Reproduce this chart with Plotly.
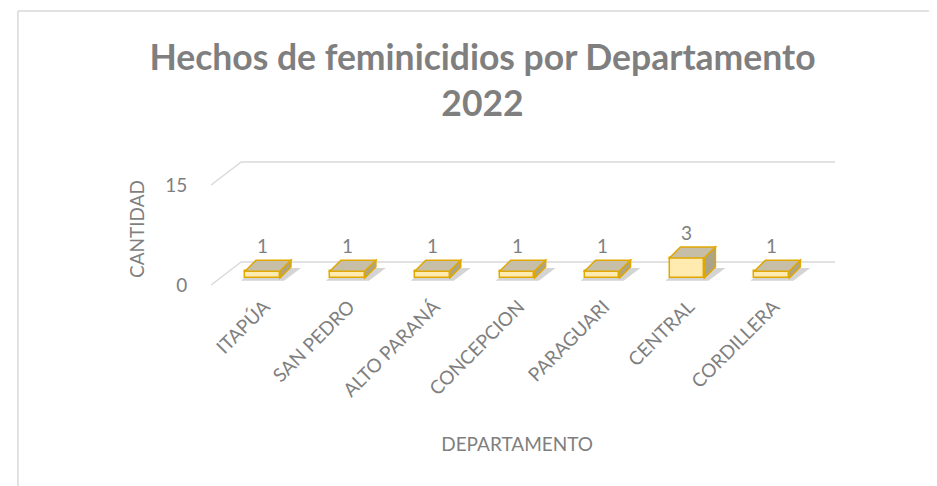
import plotly.graph_objects as go

# ---------------- data ----------------
departamentos = ["ITAPÚA", "SAN PEDRO", "ALTO PARANÁ", "CONCEPCION",
                 "PARAGUARI", "CENTRAL", "CORDILLERA"]
cantidad = [1, 1, 1, 1, 1, 3, 1]
y_ticks = [0, 15]

titulo = "Hechos de feminicidios por Departamento<br>2022"
titulo_y = "CANTIDAD"
titulo_x = "DEPARTAMENTO"

# ---------------- geometry (screen pixels) ----------------
W, H = 937, 486
OX, OY = 10, 7                          # page offset of the figure on screen
GRAY = "#7f7f7f"
GRID = "#d9d9d9"
FONT = "Lato"

bar_left, bar_right = 215, 815
dom_top, dom_bot = 150, 306
ppu = 100 / 15
front_zero = 284
bar_zero = 277
wall_left = 206
depth_dx, depth_dy = 30, 23
bar_dx, bar_dy = 11, 11
half_w = 17.5


def fx(p):
    return (p - OX) / W


def fy(p):
    return 1 - (p - OY) / H


y_range = [-(dom_bot - front_zero) / ppu, (front_zero - dom_top) / ppu]
y2_range = [-(dom_bot - bar_zero) / ppu, (bar_zero - dom_top) / ppu]
d_units = bar_dy / ppu

fig = go.Figure()

fig.add_trace(go.Bar(
    x=departamentos, y=cantidad, yaxis="y2",
    width=(2 * half_w) / ((bar_right - bar_left) / len(departamentos)),
    marker=dict(color="#FFEBB0", line=dict(color="#E0A800", width=1.5)),
    hoverinfo="x+y", showlegend=False,
))

shapes = []
bx = max(fx(7), 0.001)
shapes.append(dict(type="line", xref="paper", yref="paper",
                   x0=bx, x1=bx, y0=fy(10), y1=0,
                   line=dict(color=GRID, width=1.5)))
shapes.append(dict(type="line", xref="paper", yref="paper",
                   x0=bx, x1=1, y0=fy(10), y1=fy(10),
                   line=dict(color=GRID, width=1.5)))

for v in y_ticks:
    shapes.append(dict(type="line", layer="below",
                       xref="paper", x0=fx(wall_left + depth_dx), x1=fx(wall_left + depth_dx + 600),
                       yref="y", ysizemode="pixel", yanchor=v, y0=depth_dy, y1=depth_dy,
                       line=dict(color=GRID, width=1.5)))
    shapes.append(dict(type="line", layer="below",
                       xref="paper", xsizemode="pixel", xanchor=fx(wall_left), x0=0, x1=depth_dx,
                       yref="y", ysizemode="pixel", yanchor=v, y0=0, y1=depth_dy,
                       line=dict(color=GRID, width=1.5)))

for cat, v in zip(departamentos, cantidad):
    shapes.append(dict(type="path", layer="below",
                       xref="x", xsizemode="pixel", xanchor=cat, yref="y2",
                       path=(f"M {-half_w - 4},{-0.4} L {half_w + 4},{-0.4} "
                             f"L {half_w + bar_dx + 10},{d_units * 0.9} "
                             f"L {-half_w + bar_dx},{d_units * 0.9} Z"),
                       fillcolor="rgba(60,60,60,0.22)", line=dict(width=0)))
    shapes.append(dict(type="path", layer="above",
                       xref="x", xsizemode="pixel", xanchor=cat, yref="y2",
                       path=(f"M {-half_w},{v} L {half_w},{v} "
                             f"L {half_w + bar_dx},{v + d_units} "
                             f"L {-half_w + bar_dx},{v + d_units} Z"),
                       fillcolor="#C6BEA6", line=dict(color="#E0A800", width=1.5)))
    shapes.append(dict(type="path", layer="above",
                       xref="x", xsizemode="pixel", xanchor=cat, yref="y2",
                       path=(f"M {half_w},0 L {half_w},{v} "
                             f"L {half_w + bar_dx},{v + d_units} "
                             f"L {half_w + bar_dx},{d_units} Z"),
                       fillcolor="#ADA386", line=dict(color="#E0A800", width=1.5)))

annotations = []
for cat, v in zip(departamentos, cantidad):
    annotations.append(dict(x=cat, y=v, xref="x", yref="y2", text=str(v),
                            showarrow=False, yshift=26, yanchor="middle",
                            font=dict(family=FONT, size=19, color=GRAY)))

fig.update_layout(
    width=W, height=H, autosize=False,
    margin=dict(l=0, r=0, t=0, b=0),
    paper_bgcolor="white", plot_bgcolor="rgba(0,0,0,0)",
    font=dict(family=FONT, color=GRAY, size=19),
    title=dict(text=titulo, x=fx(480), xanchor="center", xref="paper",
               y=fy(69), yanchor="top", yref="paper",
               font=dict(family=FONT, size=35.5, color=GRAY, weight="bold")),
    xaxis=dict(domain=[fx(bar_left), fx(bar_right)], anchor="y2",
               range=[-0.5, len(departamentos) - 0.5],
               showgrid=False, zeroline=False, showline=False,
               tickangle=-45, ticks="", ticklabelstandoff=-16, ticklabelshift=2,
               tickfont=dict(family=FONT, size=19, color=GRAY),
               title=dict(text=titulo_x, standoff=37,
                          font=dict(family=FONT, size=19, color=GRAY))),
    yaxis=dict(domain=[fy(dom_bot), fy(dom_top)], range=y_range,
               anchor="free", position=fx(wall_left), side="left",
               tickvals=y_ticks, showgrid=False, zeroline=False, showline=False,
               ticks="outside", ticklen=20, tickcolor="rgba(0,0,0,0)",
               tickfont=dict(family=FONT, size=19, color=GRAY),
               title=dict(text=titulo_y, standoff=14,
                          font=dict(family=FONT, size=19, color=GRAY))),
    yaxis2=dict(domain=[fy(dom_bot), fy(dom_top)], range=y2_range,
                overlaying="y", visible=False),
    shapes=shapes, annotations=annotations,
    bargap=0,
)

fig.write_html("out.html")
